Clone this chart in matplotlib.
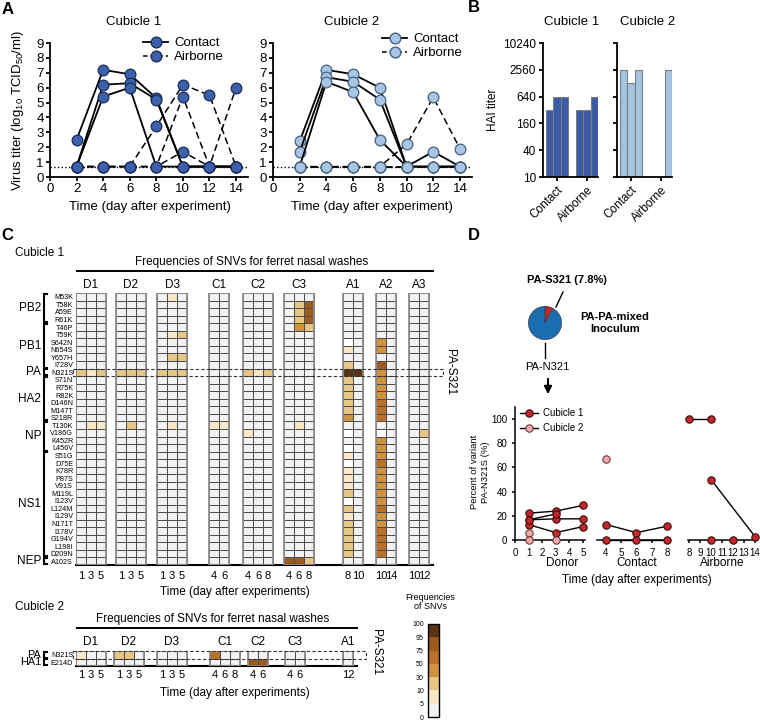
import numpy as np
import matplotlib
matplotlib.use("Agg")
import matplotlib.pyplot as plt
from matplotlib.colors import ListedColormap, BoundaryNorm
from matplotlib.cm import ScalarMappable
from matplotlib.lines import Line2D
from matplotlib.patches import Rectangle
from matplotlib.ticker import NullLocator

plt.rcParams['font.family'] = ['Liberation Sans', 'DejaVu Sans']
plt.rcParams['mathtext.fontset'] = 'custom'
plt.rcParams['mathtext.rm'] = 'Liberation Sans'
plt.rcParams['mathtext.it'] = 'Liberation Sans:italic'
plt.rcParams['axes.linewidth'] = 1.3

W, H = 760, 721

# ---------------- A: virus titers ----------------
days_a = [2, 4, 6, 8, 10, 12, 14]
c1_contact = [[2.5, 7.2, 6.9, 5.3, 0.7, 0.7, 0.7],
              [0.7, 6.2, 6.3, 5.2, 0.7, 0.7, 0.7],
              [0.7, 5.4, 6.0, 0.7, 0.7, 0.7, 0.7]]
c1_airborne = [[0.7, 0.7, 0.7, 3.4, 6.2, 5.5, 0.7],
               [0.7, 0.7, 0.7, 0.7, 5.4, 0.7, 6.0],
               [0.7, 0.7, 0.7, 0.7, 1.7, 0.7, 0.7]]
c2_contact = [[2.4, 7.2, 6.9, 6.0, 0.7, 0.7, 0.7],
              [1.7, 6.7, 6.4, 5.2, 0.7, 0.7, 0.7],
              [0.7, 6.4, 5.7, 2.5, 0.7, 1.7, 0.7]]
c2_airborne = [[0.7, 0.7, 0.7, 0.7, 2.2, 5.35, 1.9],
               [0.7, 0.7, 0.7, 0.7, 0.7, 0.7, 0.7],
               [0.7, 0.7, 0.7, 0.7, 0.7, 0.7, 0.7]]
detect_limit = 0.7

# ---------------- B: HAI titers ----------------
hai_ticks = [10, 40, 160, 640, 2560, 10240]
hai_c1_contact = [320, 640, 640]
hai_c1_airborne = [320, 320, 640]
hai_c2_contact = [2560, 1280, 2560]
hai_c2_airborne = [10, 10, 2560]

# ---------------- C: SNV frequencies ----------------
snv_bounds = [0, 5, 10, 30, 50, 75, 95, 100]
snv_colors = ['#f2f2f2', '#f8e8c8', '#e6c585', '#cf9240', '#b8702a', '#9c5a1e', '#5a3412']

mut_c1 = ["M53K", "T58K", "A59E", "R61K", "T46P", "T59K", "S642N", "N654S", "Y657H", "I728V",
          "N321S", "S71N", "R75K", "R82K", "D146N", "M147T", "S218R", "T130K", "V186G", "K452R",
          "L456V", "S51G", "D75E", "K78R", "P87S", "V91S", "M119L", "I123V", "L124M", "I129V",
          "N171T", "I178V", "G194V", "L198I", "D209N", "A102S"]
genes_c1 = [("PB2", "M53K", "R61K"), ("PB1", "T46P", "I728V"), ("PA", "N321S", "N321S"),
            ("HA2", "S71N", "S218R"), ("NP", "T130K", "L456V"), ("NS1", "S51G", "D209N"),
            ("NEP", "A102S", "A102S")]
groups_c1 = ["D1", "D2", "D3", "C1", "C2", "C3", "A1", "A2", "A3"]
days_c1 = [[1, 3, 5], [1, 3, 5], [1, 3, 5], [4, 6], [4, 6, 8], [4, 6, 8], [8, 10], [10, 14], [10, 12]]
# only non-zero cells listed, None = no data (white)
snv_c1 = [
    {"N321S": [20, 7, 20], "T130K": [0, 7, 7]},
    {"N321S": [20, 20, 20], "T130K": [0, 20, 0]},
    {"M53K": [0, 7, 0], "T59K": [0, 7, 20], "Y657H": [0, 20, 20], "N321S": [20, 20, 20],
     "T130K": [0, 7, 0]},
    {"T130K": [7, 7]},
    {"N321S": [20, 7, 20], "V186G": [7, 0, 0]},
    {"T58K": [0, 20, 85], "A59E": [0, 20, 85], "R61K": [0, 20, 85], "T46P": [0, 40, 20],
     "T130K": [0, 7, 0], "A102S": [85, 85, 20]},
    {"S642N": [None, 0], "N654S": [7, 0], "I728V": [20, 0], "N321S": [98, 98], "S71N": [20, 0],
     "R75K": [20, 0], "R82K": [20, 0], "D146N": [20, 0], "M147T": [20, 0], "S218R": [40, 0],
     "V186G": [None, 0], "L456V": [None, 0], "S51G": [7, 0], "D75E": [None, 0], "K78R": [7, 0],
     "P87S": [7, 0], "V91S": [7, 0], "M119L": [20, 0], "I123V": [None, 0], "L124M": [20, 0],
     "I129V": [7, 0], "N171T": [20, 0], "I178V": [20, 0], "G194V": [20, 0], "L198I": [20, 0],
     "D209N": [20, 0]},
    {"S642N": [40, 0], "N654S": [40, 0], "I728V": [85, 0], "N321S": [40, 0], "S71N": [40, 0],
     "R75K": [40, 0], "R82K": [40, 0], "D146N": [60, 0], "M147T": [60, 0], "S218R": [60, 0],
     "V186G": [None, 0], "K452R": [40, 0], "L456V": [40, 0], "S51G": [40, 0], "D75E": [60, 0],
     "K78R": [40, 0], "P87S": [40, 0], "V91S": [40, 0], "M119L": [40, 0], "I123V": [40, 0],
     "L124M": [60, 0], "I129V": [40, 0], "N171T": [40, 0], "I178V": [60, 0], "G194V": [60, 0],
     "L198I": [60, 0], "D209N": [60, 0]},
    {"V186G": [0, 20]},
]
# group positions in cell widths (layout)
starts_c1 = [0, 4.0, 8.1, 13.3, 16.7, 20.8, 26.7, 30.0, 33.3]

mut_c2 = ["N321S", "E214D"]
genes_c2 = [("PA", "N321S", "N321S"), ("HA1", "E214D", "E214D")]
groups_c2 = ["D1", "D2", "D3", "C1", "C2", "C3", "A1"]
days_c2 = [[1, 3, 5], [1, 3, 5], [1, 3, 5], [4, 6, 8], [4, 6], [4, 6], [12]]
snv_c2 = [
    {"N321S": [7, 0, 0]},
    {"N321S": [20, 20, 0]},
    {},
    {"N321S": [60, 0, 0]},
    {"E214D": [85, 85]},
    {},
    {},
]
starts_c2 = [0, 3.8, 8.1, 13.4, 17.2, 20.9, 26.7]

# ---------------- D: PA-N321S variant ----------------
pie_share = [7.8, 92.2]
donor_days = [1, 3, 5]
donor_c1 = [[22.2, 23.9, 28.6], [16.7, 17.5, 17.5], [12.8, 6.1, 11.1], [16.7, 21.5, np.nan]]
donor_c2_days = [1, 1, 3]
donor_c2 = [6.0, 0, 0]
contact_days = [4, 6, 8]
contact_c1 = [[12.8, 6.1, 11.4], [0, 0, 0]]
contact_c2_days = [4]
contact_c2 = [66.7]
air_c1_days = [[8, 10], [10, 14], [10], [12]]
air_c1 = [[100, 100], [50, 2.8], [0], [0]]

blue1, blue1_edge = '#3c60aa', '#1c2d5a'
blue2, blue2_edge = '#a8c6e4', '#46627f'
red1, red1_edge = '#c1272d', '#3d0c0c'
pink2, pink2_edge = '#f4a9aa', '#6d3b3b'

fig = plt.figure(figsize=(W / 100, H / 100), dpi=100)


def px_axes(l, t, r, b):
    return fig.add_axes([l / W, 1 - b / H, (r - l) / W, (b - t) / H])


def ftext(x, y, s, **kw):
    kw.setdefault('ha', 'center')
    kw.setdefault('va', 'center')
    return fig.text(x / W, 1 - y / H, s, **kw)


def fline(xs, ys, **kw):
    kw.setdefault('color', 'k')
    fig.add_artist(Line2D([x / W for x in xs], [1 - y / H for y in ys],
                          transform=fig.transFigure, **kw))


def clean(ax, left=True):
    ax.spines['top'].set_visible(False)
    ax.spines['right'].set_visible(False)
    if not left:
        ax.spines['left'].set_visible(False)
        ax.tick_params(left=False, labelleft=False)


# ======== panel A ========
def virus_panel(ax, contact, airborne, face, edge):
    ax.axhline(detect_limit, ls=':', color='k', lw=1, zorder=1)
    for vals in airborne:
        ax.plot(days_a, vals, color='k', lw=1.1, ls=(0, (4.5, 2.5)), marker='o', ms=7.7,
                mfc=face, mec=edge, mew=0.9, clip_on=False, zorder=3)
    for vals in contact:
        ax.plot(days_a, vals, color='k', lw=1.3, ls='-', marker='o', ms=7.7,
                mfc=face, mec=edge, mew=0.9, clip_on=False, zorder=4)
    ax.set_xlim(0, 14.9)
    ax.set_ylim(0, 9)
    ax.set_xticks(range(0, 15, 2))
    ax.set_yticks(range(10))
    ax.tick_params(labelsize=9.5, length=3, width=1.3, pad=1.5)
    clean(ax)
    handles = [Line2D([], [], color='k', lw=1.3, ls='-', marker='o', ms=7.7, mfc=face, mec=edge),
               Line2D([], [], color='k', lw=1.1, ls=(0, (3, 2)), marker='o', ms=7.7, mfc=face, mec=edge)]
    return handles


axA1 = px_axes(50, 43, 248, 177)
h = virus_panel(axA1, c1_contact, c1_airborne, blue1, blue1_edge)
axA1.legend(h, ['Contact', 'Airborne'], loc='upper left', bbox_to_anchor=(143 / W, 1 - 37 / H),
            bbox_transform=fig.transFigure, frameon=False, fontsize=9.5, handlelength=1.9,
            handletextpad=0.45, labelspacing=0.15, borderpad=0, borderaxespad=0)
axA2 = px_axes(273, 43, 472, 177)
h = virus_panel(axA2, c2_contact, c2_airborne, blue2, blue2_edge)
axA2.legend(h, ['Contact', 'Airborne'], loc='upper left', bbox_to_anchor=(382 / W, 1 - 33 / H),
            bbox_transform=fig.transFigure, frameon=False, fontsize=9.5, handlelength=1.9,
            handletextpad=0.45, labelspacing=0.15, borderpad=0, borderaxespad=0)
ftext(134, 22, 'Cubicle 1', fontsize=9.5)
ftext(352, 22, 'Cubicle 2', fontsize=9.5)
ftext(150, 207, 'Time (day after experiment)', fontsize=9.5)
ftext(372, 207, 'Time (day after experiment)', fontsize=9.5)
ftext(18, 110, 'Virus titer (log$_{10}$ TCID$_{50}$/ml)', fontsize=9.5, rotation=90)
ftext(8, 9, 'A', fontsize=12, fontweight='bold')


# ======== panel B ========
def hai_panel(ax, contact, airborne, face, labels):
    x = [0, 1, 2, 4, 5, 6]
    vals = np.array(contact + airborne, dtype=float)
    ax.bar(x, vals - 10, bottom=10, width=1, color=face, edgecolor='#7d7d7d', lw=0.8)
    ax.set_yscale('log')
    ax.set_ylim(10, 10240)
    ax.set_xlim(-0.9, 6.5)
    ax.set_yticks(hai_ticks)
    ax.yaxis.set_minor_locator(NullLocator())
    ax.set_yticklabels([str(t) for t in hai_ticks] if labels else [])
    ax.set_xticks([1, 5])
    ax.set_xticklabels(['Contact', 'Airborne'], rotation=45, ha='right', rotation_mode='anchor')
    ax.tick_params(labelsize=8.5, length=3, width=1.3, pad=2)
    clean(ax)


axB1 = px_axes(543, 43, 598, 177)
hai_panel(axB1, hai_c1_contact, hai_c1_airborne, '#3a5ca6', True)
axB2 = px_axes(617, 43, 672, 177)
hai_panel(axB2, hai_c2_contact, hai_c2_airborne, '#a4c3e0', False)
ftext(572, 22, 'Cubicle 1', fontsize=9.5)
ftext(648, 22, 'Cubicle 2', fontsize=9.5)
ftext(493, 110, 'HAI titer', fontsize=8.5, rotation=90)
ftext(474, 8, 'B', fontsize=12, fontweight='bold')

# ======== panel C ========
snv_cmap = ListedColormap(snv_colors).with_extremes(bad='white')
snv_norm = BoundaryNorm(snv_bounds, len(snv_colors))


def snv_heatmap(ax, top_px, row_px, mutations, genes, names, days, cells, starts, x_right,
                title_x, label_dy, line_dy, title_dy, tick_pad, box_right, box_label_x, box_label_y,
                gene_size=8.5):
    nrow = len(mutations)
    idx = {m: i for i, m in enumerate(mutations)}
    centers, labels = [], []
    for name, dd, cell, x0 in zip(names, days, cells, starts):
        ncol = len(dd)
        arr = np.zeros((nrow, ncol))
        for m, v in cell.items():
            arr[idx[m]] = np.array(v, dtype=float)
        ax.pcolormesh(x0 + np.arange(ncol + 1), np.arange(nrow + 1), np.ma.masked_invalid(arr),
                      cmap=snv_cmap, norm=snv_norm, edgecolors='#4d4d4d', linewidth=0.6)
        ax.add_patch(Rectangle((x0, 0), ncol, nrow, fill=False, ec='#8e8e8e', lw=1.3, zorder=3))
        ax.text(x0 + ncol / 2, label_dy / row_px, name, ha='center', va='center',
                fontsize=8.5, clip_on=False)
        centers += list(x0 + 0.5 + np.arange(ncol))
        labels += [str(d) for d in dd]
    ax.set_xlim(0, x_right)
    ax.set_ylim(nrow, 0)
    ax.set_xticks(centers)
    ax.set_xticklabels(labels)
    ax.set_yticks(np.arange(nrow) + 0.5)
    ax.set_yticklabels(mutations)
    ax.tick_params(axis='x', length=0, labelsize=8, pad=tick_pad)
    ax.tick_params(axis='y', length=0, labelsize=5.2, pad=2)
    for s in ['top', 'right', 'left']:
        ax.spines[s].set_visible(False)
    ax.spines['bottom'].set_linewidth(1.5)
    ax.set_facecolor('none')
    # header line and title
    ax.plot([0.1, x_right], [line_dy / row_px] * 2, color='k', lw=1.4, clip_on=False)
    ax.text(title_x, title_dy / row_px, 'Frequencies of SNVs for ferret nasal washes',
            ha='center', va='center', fontsize=8.5, clip_on=False)
    # gene brackets (figure pixels)
    for g, first, last in genes:
        y0 = top_px + (idx[first] + 0.12) * row_px
        y1 = top_px + (idx[last] + 1 - 0.12) * row_px
        fline([47, 43.5, 43.5, 47], [y0, y0, y1, y1], lw=1.5, solid_joinstyle='miter', zorder=5)
        ftext(41, (y0 + y1) / 2, g, ha='right', fontsize=gene_size)
    # PA-S321 dashed box
    r = idx["N321S"]
    ax.add_patch(Rectangle((-0.3, r), box_right + 0.3, 1, fill=False, ls=(0, (3, 2)),
                           lw=0.8, ec='#333333', clip_on=False, zorder=4))
    ax.text(box_label_x, box_label_y, 'PA-S321', rotation=-90, ha='center', va='center',
            fontsize=8.5, clip_on=False)


axC1 = px_axes(76, 293, 433, 565)
snv_heatmap(axC1, 293, 7.55, mut_c1, genes_c1, groups_c1, days_c1, snv_c1, starts_c1, 35.7,
            17.6, -8, -22, -31, 4, 36.7, 37.35, 10.5)
ftext(15, 253, 'Cubicle 1', fontsize=8.5, ha='left')
ftext(235, 592, 'Time (day after experiments)', fontsize=8.5)
ftext(7, 235, 'C', fontsize=12, fontweight='bold')

axC2 = px_axes(76, 651, 357, 666)
snv_heatmap(axC2, 651, 7.5, mut_c2, genes_c2, groups_c2, days_c2, snv_c2, starts_c2, 28.1,
            13.7, -9, -23, -32, 3, 29.0, 30.05, 0.1, gene_size=7.8)
ftext(15, 607, 'Cubicle 2', fontsize=8.5, ha='left')
ftext(235, 693, 'Time (day after experiments)', fontsize=8.5)

# colorbar
cax = px_axes(428, 624, 439, 717)
cb = fig.colorbar(ScalarMappable(norm=snv_norm, cmap=snv_cmap), cax=cax,
                  spacing='uniform', ticks=snv_bounds)
cax.yaxis.set_ticks_position('left')
cax.tick_params(labelsize=5, length=0, pad=3)
cb.outline.set_linewidth(1)
ftext(430, 602, 'Frequencies\nof SNVs', fontsize=6.5, linespacing=1.1)

# ======== panel D ========
ftext(474, 235, 'D', fontsize=12, fontweight='bold')
axPie = px_axes(528, 306, 562, 340)
axPie.pie(pie_share, colors=[red1, '#1c6daf'], startangle=90, counterclock=False,
          wedgeprops=dict(edgecolor='#333333', linewidth=0.4))
axPie.set_xlim(-1.02, 1.02)
axPie.set_ylim(-1.02, 1.02)
axPie.set_aspect('equal')
axPie.axis('off')
ftext(567, 280, 'PA-S321 (7.8%)', fontsize=8, fontweight='bold')
fline([563, 556], [292, 307], lw=1)
ftext(615, 323, 'PA-PA-mixed\nInoculum', fontsize=8, fontweight='bold', linespacing=1.3)
fline([545, 545], [343, 358], lw=1)
ftext(547, 367, 'PA-N321', fontsize=8)
axPie.annotate('', xy=(548 / W, 1 - 397 / H), xytext=(548 / W, 1 - 376 / H),
               xycoords='figure fraction', textcoords='figure fraction', annotation_clip=False,
               arrowprops=dict(arrowstyle='-|>', color='k', lw=1.5, mutation_scale=11))

mk1 = dict(marker='o', ms=5.3, mfc=red1, mec=red1_edge, mew=0.8, color='k', lw=1, clip_on=False)
mk2 = dict(marker='o', ms=5.3, mfc=pink2, mec=pink2_edge, mew=0.8, color='k', lw=1,
           ls='none', clip_on=False)

axD1 = px_axes(515, 407, 585, 540)
axD2 = px_axes(597, 407, 670, 540)
axD3 = px_axes(688, 407, 757, 540)
for vals in donor_c1:
    axD1.plot(donor_days, vals, zorder=3, **mk1)
axD1.plot(donor_c2_days, donor_c2, zorder=4, **mk2)
for vals in contact_c1:
    axD2.plot(contact_days, vals, zorder=3, **mk1)
axD2.plot(contact_c2_days, contact_c2, zorder=4, **mk2)
for dd, vals in zip(air_c1_days, air_c1):
    axD3.plot(dd, vals, zorder=3, **mk1)

axD1.set_xlim(0, 5.15)
axD1.set_xticks(range(0, 6))
axD2.set_xlim(3.41, 8.2)
axD2.set_xticks(range(4, 9))
axD3.set_xlim(7.9, 14.18)
axD3.set_xticks(range(8, 15))
for ax, left in [(axD1, True), (axD2, False), (axD3, False)]:
    ax.set_ylim(0, 110)
    ax.set_yticks(range(0, 101, 20))
    ax.tick_params(labelsize=7, length=2.5, width=1.1, pad=3)
    clean(ax, left)
    ax.spines['bottom'].set_linewidth(1.1)
    ax.spines['left'].set_linewidth(1.1)
axD3.tick_params(axis='x', pad=3)
axD1.legend([Line2D([], [], **mk1), Line2D([], [], marker='o', ms=5.3, mfc=pink2, mec=pink2_edge,
                                            mew=0.8, color='k', lw=1)],
            ['Cubicle 1', 'Cubicle 2'], loc='upper left', bbox_to_anchor=(520 / W, 1 - 408 / H),
            bbox_transform=fig.transFigure, frameon=False, fontsize=7, handlelength=1.8,
            handletextpad=0.6, labelspacing=0.55, borderpad=0, borderaxespad=0)
ftext(562, 563, 'Donor', fontsize=8.5)
ftext(637, 563, 'Contact', fontsize=8.5)
ftext(722, 563, 'Airborne', fontsize=8.5)
ftext(637, 580, 'Time (day after experiments)', fontsize=8.5)
ftext(480, 472, 'Percent of variant\nPA-N321S (%)', fontsize=6.8, rotation=90, linespacing=1.2)

fig.savefig('out.png', dpi=100)
